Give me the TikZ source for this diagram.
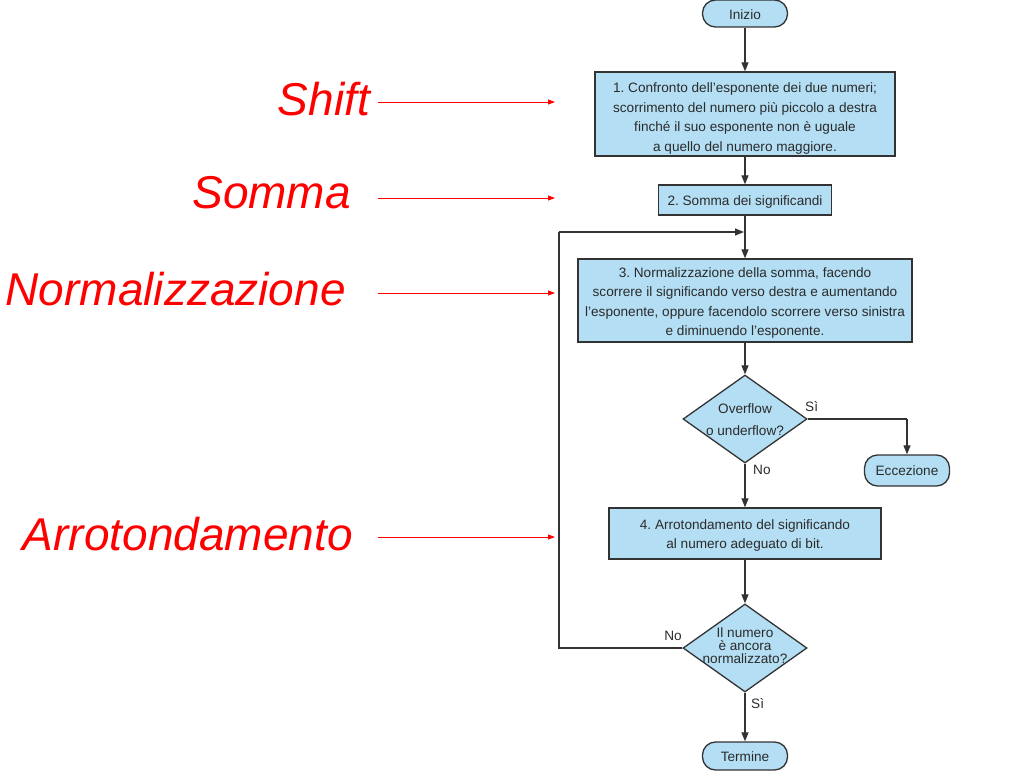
\documentclass[tikz,border=0pt]{standalone}
\usepackage{fontspec}
\setmainfont{Liberation Sans}
\usetikzlibrary{shapes.geometric,arrows.meta}
\definecolor{boxfill}{HTML}{B3DEF3}
\definecolor{boxline}{HTML}{333333}
\definecolor{txt}{HTML}{2B2B2B}
\frenchspacing
\tikzset{
  flow/.style={draw=boxline,line width=1.3pt,fill=boxfill,inner sep=0pt},
  proc/.style={flow,rectangle},
  term/.style={flow,rectangle,rounded corners=13pt},
  dec/.style={flow,diamond,minimum width=124pt,minimum height=88pt},
  ptext/.style={text=txt,align=center,inner sep=0pt,font=\fontsize{13.6}{19.5}\selectfont},
  dtext/.style={text=txt,align=center,inner sep=0pt},
  lbl/.style={text=txt,font=\fontsize{13.6}{16}\selectfont,inner sep=0pt},
  conn/.style={draw=boxline,line width=1.2pt,-{Triangle[length=9pt,width=7pt]}},
  line/.style={draw=boxline,line width=1.2pt},
  redlbl/.style={text=red,font=\fontsize{46}{50}\selectfont\itshape,inner sep=0pt,anchor=base east},
  redarr/.style={draw=red,line width=0.9pt,-{Triangle[length=7pt,width=5pt]}}
}
\begin{document}
\begin{tikzpicture}[x=1pt,y=-1pt]
\useasboundingbox (0,0) rectangle (1023,776);
% flowchart shapes
\node[term,minimum width=85pt,minimum height=27pt] (start) at (745,13.5) {};
\node[ptext] (startt) at (745,14.5) {Inizio};
\node[proc,minimum width=300pt,minimum height=84pt] (s1) at (745,114) {};
\node[ptext] (s1t) at (745,118.5) {1. Confronto dell'esponente dei due numeri;\\scorrimento del numero più piccolo a destra\\finché il suo esponente non è uguale\\a quello del numero maggiore.};
\node[proc,minimum width=173pt,minimum height=30pt] (s2) at (745,200) {};
\node[ptext] (s2t) at (745,201.5) {2. Somma dei significandi};
\coordinate (join) at (745,232);
\node[proc,minimum width=334pt,minimum height=83pt] (s3) at (745,300.5) {};
\node[ptext] (s3t) at (745,303) {3. Normalizzazione della somma, facendo\\scorrere il significando verso destra e aumentando\\l'esponente, oppure facendolo scorrere verso sinistra\\e diminuendo l'esponente.};
\node[dec] (d1) at (745,419) {};
\node[dtext,font=\fontsize{13.6}{22}\selectfont] (d1t) at (745,420) {Overflow\\o underflow?};
\node[term,minimum width=85pt,minimum height=31pt] (exc) at (907,470.5) {};
\node[ptext] (exct) at (907,471) {Eccezione};
\node[proc,minimum width=272pt,minimum height=51pt] (s4) at (745,533.5) {};
\node[ptext] (s4t) at (745,535.5) {4. Arrotondamento del significando\\al numero adeguato di bit.};
\node[dec] (d2) at (745,648) {};
\node[dtext,font=\fontsize{13.6}{13}\selectfont] (d2t) at (745,646) {Il numero\\è ancora\\normalizzato?};
\node[term,minimum width=85pt,minimum height=28pt] (end) at (745,756) {};
\node[ptext] (endt) at (745,756.5) {Termine};
\coordinate (loopbl) at (559,648);
\coordinate (looptl) at (559,232);
\coordinate (exccorner) at (907,419);
% connectors
\draw[conn] (start) -- (s1);
\draw[conn] (s1) -- (s2);
\draw[line] (s2) -- (join);
\draw[conn] (join) -- (s3);
\draw[conn] (s3) -- (d1);
\draw[line] (d1.east) -- (exccorner);
\draw[conn] (exccorner) -- (exc);
\draw[conn] (d1) -- (s4);
\draw[conn] (s4) -- (d2);
\draw[conn] (d2) -- (end);
\draw[line] (d2.west) -- (loopbl) -- (looptl);
\draw[conn] (looptl) -- ([xshift=-1pt]join);
% branch labels
\node[lbl,anchor=base west] (si1) at (805,411) {Sì};
\node[lbl,anchor=base west] (no1) at (753,474) {No};
\node[lbl,anchor=base east] (no2) at (682,640) {No};
\node[lbl,anchor=base west] (si2) at (751,708) {Sì};
% red annotations
\node[redlbl] (shift) at (370,115) {Shift};
\node[redlbl] (somma) at (351,208) {Somma};
\node[redlbl] (norm) at (346,305) {Normalizzazione};
\node[redlbl] (arr) at (353,550) {Arrotondamento};
\coordinate (shiftS) at (378,102);
\coordinate (sommaS) at (378,198);
\coordinate (normS) at (378,293);
\coordinate (arrS) at (378,537);
\coordinate (shiftT) at (555,102);
\coordinate (sommaT) at (555,198);
\coordinate (normT) at (555,293);
\coordinate (arrT) at (555,537);
\draw[redarr] (shiftS) -- (shiftT);
\draw[redarr] (sommaS) -- (sommaT);
\draw[redarr] (normS) -- (normT);
\draw[redarr] (arrS) -- (arrT);
\end{tikzpicture}
\end{document}
